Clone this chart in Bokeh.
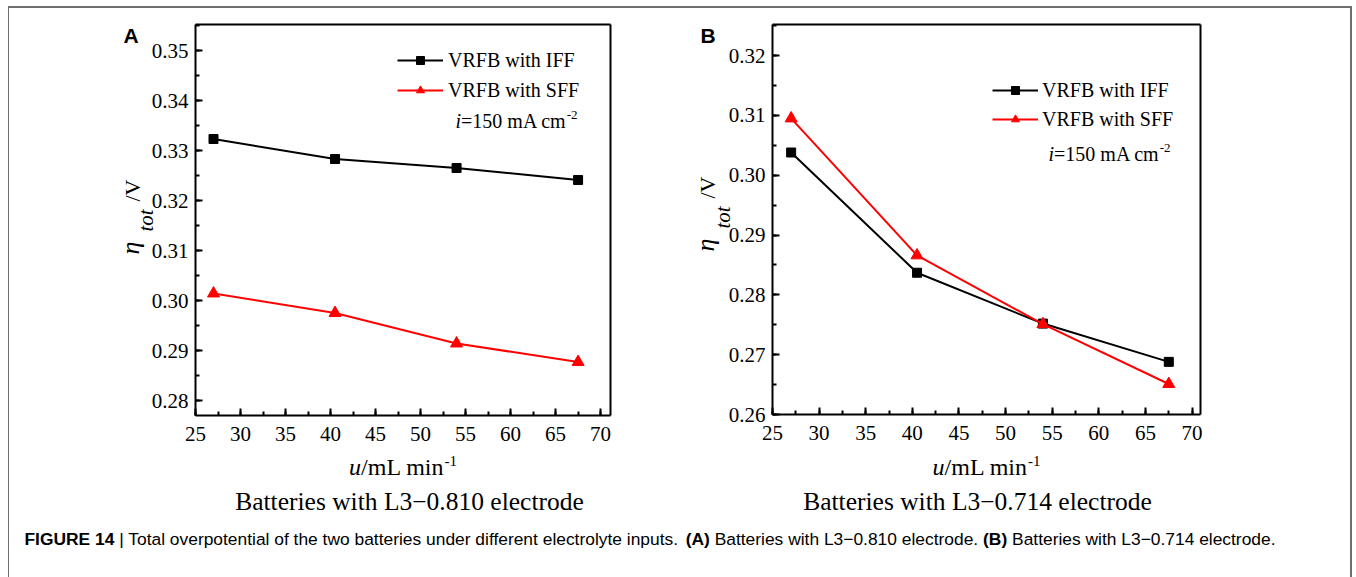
import numpy as np
from bokeh.plotting import figure
from bokeh.models import (Label, Legend, LegendItem, SingleIntervalTicker, FixedTicker,
                          PrintfTickFormatter, Range1d, LinearAxis)
from bokeh.layouts import column
from bokeh.embed import file_html
from bokeh.resources import INLINE

# ---------------- data ----------------
flow_rate = [27.0, 40.5, 54.0, 67.5]          # u / mL min-1
a_iff = [0.3323, 0.3283, 0.3265, 0.3241]      # panel A, IFF
a_sff = [0.3014, 0.2975, 0.2914, 0.2877]      # panel A, SFF
b_iff = [0.3038, 0.2837, 0.2752, 0.2688]      # panel B, IFF
b_sff = [0.3095, 0.2866, 0.2751, 0.2651]      # panel B, SFF
series_names = ["VRFB with IFF", "VRFB with SFF"]
panel_titles = ["Batteries with L3\u22120.810 electrode",
                "Batteries with L3\u22120.714 electrode"]
panel_letters = ["A", "B"]
caption_runs = [("FIGURE 14", "bold"),
                (" | Total overpotential of the two batteries under different electrolyte inputs. ", "normal"),
                ("(A)", "bold"), (" Batteries with L3\u22120.810 electrode. ", "normal"),
                ("(B)", "bold"), (" Batteries with L3\u22120.714 electrode.", "normal")]

SERIF = "Liberation Serif"
SANS = "Liberation Sans"
TNR = "Times New Roman"

# approximate glyph advance widths (per 1000 em)
TIMES = {' ': 250, '/': 278, '=': 564, '-': 333, '\u2212': 564, '.': 250, 'A': 722, 'B': 667,
         'F': 556, 'I': 333, 'L': 611, 'R': 667, 'V': 722, 'a': 444, 'c': 444, 'd': 500,
         'e': 444, 'h': 500, 'i': 278, 'l': 278, 'm': 778, 'n': 500, 'o': 500, 'r': 333,
         's': 389, 't': 278, 'w': 722, 'u': 500, '\u03b7': 500}
ARIAL = {' ': 278, '|': 260, '(': 333, ')': 333, '.': 278, '\u2212': 584, 'A': 667, 'B': 667,
         'E': 667, 'F': 611, 'G': 778, 'I': 278, 'L': 556, 'R': 722, 'T': 611, 'U': 722,
         'a': 556, 'b': 556, 'c': 500, 'd': 556, 'e': 556, 'f': 278, 'h': 556, 'i': 222,
         'l': 222, 'n': 556, 'o': 556, 'p': 556, 'r': 333, 's': 500, 't': 278, 'u': 556,
         'v': 500, 'w': 722, 'y': 500}
for d in "0123456789":
    ARIAL[d] = 556
    TIMES[d] = 500
ARIAL_B = dict(ARIAL, **{'A': 722, 'B': 722})

# page geometry (pixels)
OX, OY = 9, 8                      # canvas origin on the page
CW, CH = 1341, 569                 # canvas size
BOX_A = (195, 24, 610, 415)        # left, top, right, bottom of panel A axes box
BOX_B = (772, 24, 1200, 414)
XR_A, YR_A = (25, 71.1), (0.277, 0.3552)
XR_B, YR_B = (25, 70.9), (0.26, 0.3252)


def tw(s, size, table):
    return sum(table.get(c, 500) for c in s) / 1000.0 * size


def mid_off(font, size):
    return (0.3465 if "Sans" in font else 0.3375) * size


def full_range(box, xr, yr):
    bl, bt, br, bb = box
    sx = (br - bl) / (xr[1] - xr[0])
    sy = (bb - bt) / (yr[1] - yr[0])
    return ((xr[0] - (bl - OX) / sx, xr[1] + (OX + CW - br) / sx),
            (yr[0] - (OY + CH - bb) / sy, yr[1] + (bt - OY) / sy))


def make_conv(box, xr, yr):
    bl, bt, br, bb = box

    def conv(px, py):
        return (xr[0] + (px - bl) / (br - bl) * (xr[1] - xr[0]),
                yr[1] - (py - bt) / (bb - bt) * (yr[1] - yr[0]))
    return conv


def hruns(p, conv, rn, x0, yb, runs):
    x = x0
    for text, font, style, size, rise, table in runs:
        body = text.lstrip(" ")
        x += tw(text[:len(text) - len(body)], size, table)
        dx, dy = conv(x, yb - rise - mid_off(font, size))
        p.add_layout(Label(x=dx, y=dy, text=body, text_font=font, text_font_style=style,
                           text_font_size=f"{size}px", text_color="black",
                           text_align="left", text_baseline="middle",
                           x_range_name=rn, y_range_name=rn))
        x += tw(body, size, table)


def vtext(p, conv, rn, xb, y0, text, font, style, size):
    dx, dy = conv(xb - mid_off(font, size), y0)
    p.add_layout(Label(x=dx, y=dy, text=text, text_font=font, text_font_style=style,
                       text_font_size=f"{size}px", text_color="black", angle=np.pi / 2,
                       text_align="left", text_baseline="middle",
                       x_range_name=rn, y_range_name=rn))


def style_axis(ax):
    ax.axis_line_width = 2
    ax.axis_line_color = "black"
    ax.major_tick_in = 7
    ax.major_tick_out = 0
    ax.minor_tick_in = 4
    ax.minor_tick_out = 0
    ax.major_tick_line_width = 2
    ax.minor_tick_line_width = 2
    ax.major_tick_line_color = "black"
    ax.minor_tick_line_color = "black"
    ax.major_label_text_font = TNR
    ax.major_label_text_font_size = "21px"
    ax.major_label_text_color = "black"


fxA, fyA = full_range(BOX_A, XR_A, YR_A)
fxB, fyB = full_range(BOX_B, XR_B, YR_B)

p = figure(width=CW, height=CH, x_range=Range1d(*fxA), y_range=Range1d(*fyA),
           x_axis_type=None, y_axis_type=None, min_border=0, output_backend="svg",
           toolbar_location=None, outline_line_color=None,
           background_fill_color="white", border_fill_color="white")
p.extra_x_ranges = {"b": Range1d(*fxB)}
p.extra_y_ranges = {"b": Range1d(*fyB)}
p.grid.visible = False


def draw_panel(rn, box, xr, yr, iff, sff, legend_tl, leg_spacing, leg_standoff, row3_xy,
               ylab, letter, title, title_cx):
    xax = LinearAxis(fixed_location=yr[0], bounds=xr, x_range_name=rn, y_range_name=rn,
                     ticker=SingleIntervalTicker(interval=5, num_minor_ticks=2))
    style_axis(xax)
    xax.major_label_standoff = 11
    p.add_layout(xax, "below")
    yax = LinearAxis(fixed_location=xr[0], bounds=yr, x_range_name=rn, y_range_name=rn,
                     ticker=SingleIntervalTicker(interval=0.01, num_minor_ticks=2),
                     formatter=PrintfTickFormatter(format="%.2f"))
    style_axis(yax)
    yax.major_label_standoff = 7
    p.add_layout(yax, "left")
    for loc, side, bnd in ((yr[1], "above", xr), (xr[1], "right", yr)):
        a = LinearAxis(fixed_location=loc, bounds=bnd, x_range_name=rn, y_range_name=rn,
                       ticker=FixedTicker(ticks=[]), major_label_text_font_size="0px")
        a.axis_line_width = 2
        a.axis_line_color = "black"
        p.add_layout(a, side)

    kw = dict(x_range_name=rn, y_range_name=rn)
    l1 = p.line(flow_rate, iff, line_color="black", line_width=2, **kw)
    s1 = p.scatter(flow_rate, iff, marker="square", size=9, fill_color="black",
                   line_color="black", **kw)
    l2 = p.line(flow_rate, sff, line_color="#ff0000", line_width=2, **kw)
    s2 = p.scatter(flow_rate, sff, marker="triangle", size=12, fill_color="#ff0000",
                   line_color="#ff0000", **kw)

    row_h = 23
    leg_h = 2 * row_h + leg_spacing
    leg = Legend(items=[LegendItem(label=series_names[0], renderers=[l1, s1]),
                        LegendItem(label=series_names[1], renderers=[l2, s2])],
                 location=(legend_tl[0] - OX, OY + CH - (legend_tl[1] + leg_h)),
                 glyph_width=46, glyph_height=20, label_height=20,
                 spacing=leg_spacing, padding=0, margin=0, label_standoff=leg_standoff,
                 border_line_color=None, background_fill_alpha=0,
                 label_text_font=TNR, label_text_font_size="20px", label_text_color="black")
    p.add_layout(leg)

    conv = make_conv(box, xr, yr)
    bl, bt, br, bb = box
    fcx = (bl + br) / 2

    # i=150 mA cm-2
    hruns(p, conv, rn, row3_xy[0], row3_xy[1],
          [("i", SERIF, "italic", 20, 0, TIMES), ("=150 mA cm", SERIF, "normal", 20, 0, TIMES),
           ("-2", SERIF, "normal", 13, 8, TIMES)])

    # x axis label u/mL min-1
    xl = [("u", SERIF, "italic", 24, 0, TIMES), ("/mL min", SERIF, "normal", 24, 0, TIMES),
          ("-1", SERIF, "normal", 15, 9, TIMES)]
    wx = sum(tw(t, s, tb) for t, f, st, s, r, tb in xl)
    hruns(p, conv, rn, fcx - wx / 2, 475, xl)

    # panel subtitle
    wt = tw(title, 25.5, TIMES)
    hruns(p, conv, rn, title_cx - wt / 2, 510, [(title, SERIF, "normal", 25.5, 0, TIMES)])

    # y axis label: eta_tot / V (rotated, reading upward)
    xb, xsub, y_eta, y_sub, y_v = ylab
    vtext(p, conv, rn, xb, y_eta, "\u03b7", SERIF, "italic", 26)
    vtext(p, conv, rn, xsub, y_sub, "tot", SERIF, "italic", 21)
    vtext(p, conv, rn, xb, y_v, "/V", SERIF, "normal", 22)

    # panel letter
    hruns(p, conv, rn, bl - 72, 42, [(letter, SANS, "bold", 21, 0, ARIAL_B)])
    return conv


convA = draw_panel("default", BOX_A, XR_A, YR_A, a_iff, a_sff, (397, 48.5), 7, 5, (455, 127),
                   (139, 153, 254, 231, 201), panel_letters[0], panel_titles[0], 409)
convB = draw_panel("b", BOX_B, XR_B, YR_B, b_iff, b_sff, (992, 78.5), 6, 4, (1048, 160),
                   (714, 730, 251, 228, 198), panel_letters[1], panel_titles[1], 977)

# caption
cap_em = sum(tw(t, 1, ARIAL_B if st == "bold" else ARIAL) for t, st in caption_runs)
cap_size = round((1278 - 24) / cap_em, 1)
runs = [(t, SANS, st, cap_size, 0, ARIAL_B if st == "bold" else ARIAL) for t, st in caption_runs]
hruns(p, convA, "default", 24, 545, runs)

layout = column(p, styles={"border-top": "2px solid #6f6f6f", "border-left": "1px solid #6f6f6f",
                           "border-right": "2px solid #6f6f6f", "margin-left": "8px",
                           "margin-top": "6px"})

open("out.html", "w").write(file_html(layout, INLINE))
